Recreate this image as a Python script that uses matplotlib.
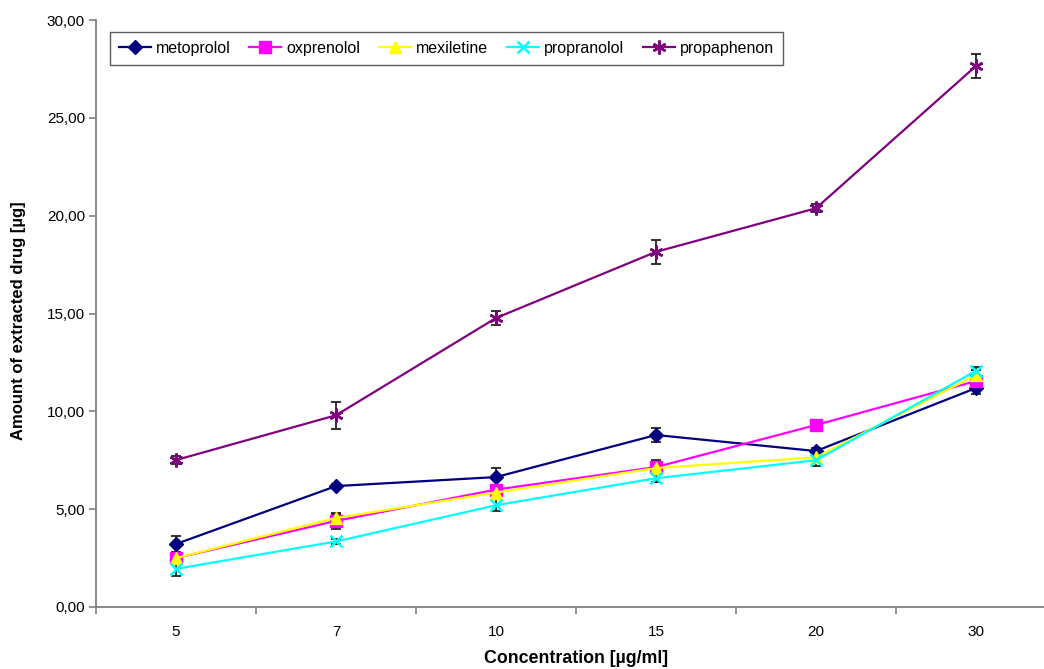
import matplotlib
matplotlib.use("Agg")
import matplotlib.pyplot as plt
from matplotlib.ticker import FuncFormatter, FixedLocator
import numpy as np

categories = ["5", "7", "10", "15", "20", "30"]
metoprolol = [3.22, 6.18, 6.64, 8.79, 7.97, 11.19]
metoprolol_err = [0.40, 0.12, 0.45, 0.35, 0.15, 0.30]
oxprenolol = [2.50, 4.40, 6.00, 7.15, 9.30, 11.55]
oxprenolol_err = [0.25, 0.40, 0.20, 0.35, 0.10, 0.20]
mexiletine = [2.50, 4.55, 5.85, 7.10, 7.65, 11.85]
mexiletine_err = [0.20, 0.20, 0.20, 0.20, 0.30, 0.25]
propranolol = [1.95, 3.35, 5.20, 6.58, 7.50, 12.07]
propranolol_err = [0.38, 0.15, 0.30, 0.20, 0.30, 0.20]
propaphenon = [7.51, 9.80, 14.77, 18.15, 20.38, 27.65]
propaphenon_err = [0.20, 0.70, 0.35, 0.60, 0.20, 0.60]

series = [
    ("metoprolol", metoprolol, metoprolol_err, "#000080", "D", 7),
    ("oxprenolol", oxprenolol, oxprenolol_err, "#FF00FF", "s", 8),
    ("mexiletine", mexiletine, mexiletine_err, "#FFFF00", "^", 8),
    ("propranolol", propranolol, propranolol_err, "#00FFFF", "x", 8),
    ("propaphenon", propaphenon, propaphenon_err, "#800080", (6, 2, 0), 10),
]

plt.rcParams['font.family'] = ['Liberation Sans', 'DejaVu Sans']

fig = plt.figure(figsize=(10.44, 6.69), dpi=100)
W, H = 1044, 669
left, right, top, bottom = 96, 1056, 20, 607
ax = fig.add_axes([left / W, 1 - bottom / H, (right - left) / W, (bottom - top) / H])

x = np.arange(len(categories))
for name, vals, err, col, mk, ms in series:
    ax.errorbar(x, vals, yerr=err, fmt='none', ecolor='#222222', elinewidth=1.3,
                capsize=3.5, capthick=1.3, zorder=3)
for name, vals, err, col, mk, ms in series:
    mew = 1.8 if mk in ("x",) or isinstance(mk, tuple) else 1
    ax.plot(x, vals, color=col, marker=mk, markersize=ms, linewidth=1.6,
            markeredgewidth=mew, markerfacecolor=col, markeredgecolor=col,
            label=name, zorder=4)

ax.set_xlim(-0.5, len(categories) - 0.5)
ax.set_ylim(0, 30)
ax.set_yticks(np.arange(0, 31, 5))
ax.yaxis.set_major_formatter(FuncFormatter(lambda v, p: f"{v:.2f}".replace(".", ",")))
ax.xaxis.set_major_locator(FixedLocator(np.arange(-0.5, len(categories), 1.0)))
ax.xaxis.set_major_formatter(FuncFormatter(lambda v, p: ""))
ax.xaxis.set_minor_locator(FixedLocator(x))
ax.set_xticklabels(categories, minor=True)
ax.tick_params(axis='x', which='minor', length=0, pad=13, labelsize=11)
ax.tick_params(axis='x', which='major', length=5, color='#808080', width=1.2, direction='out')
ax.tick_params(axis='y', length=5, color='#808080', width=1.2, direction='out', labelsize=11, pad=3)

for s in ("top", "right"):
    ax.spines[s].set_visible(False)
for s in ("left", "bottom"):
    ax.spines[s].set_color('#808080')
    ax.spines[s].set_linewidth(1.3)

ax.set_xlabel("Concentration [µg/ml]", fontsize=12.75, fontweight='bold')
ax.xaxis.set_label_coords(0.5, -(650 - bottom) / (bottom - top))
ax.set_ylabel("Amount of extracted drug [µg]", fontsize=12, fontweight='bold')
ax.yaxis.set_label_coords(-(96 - 26) / (right - left), 1 - (321 - top) / (bottom - top))

leg = ax.legend(loc='upper left', bbox_to_anchor=((110 - left) / (right - left), 1 - (32 - top) / (bottom - top)),
                ncol=5, frameon=True, fancybox=False, fontsize=11.5, handlelength=2.0,
                columnspacing=1.2, handletextpad=0.3, borderpad=0.55, borderaxespad=0)
leg.get_frame().set_edgecolor('#333333')
leg.get_frame().set_linewidth(1.0)

fig.savefig("out.png", dpi=100)
